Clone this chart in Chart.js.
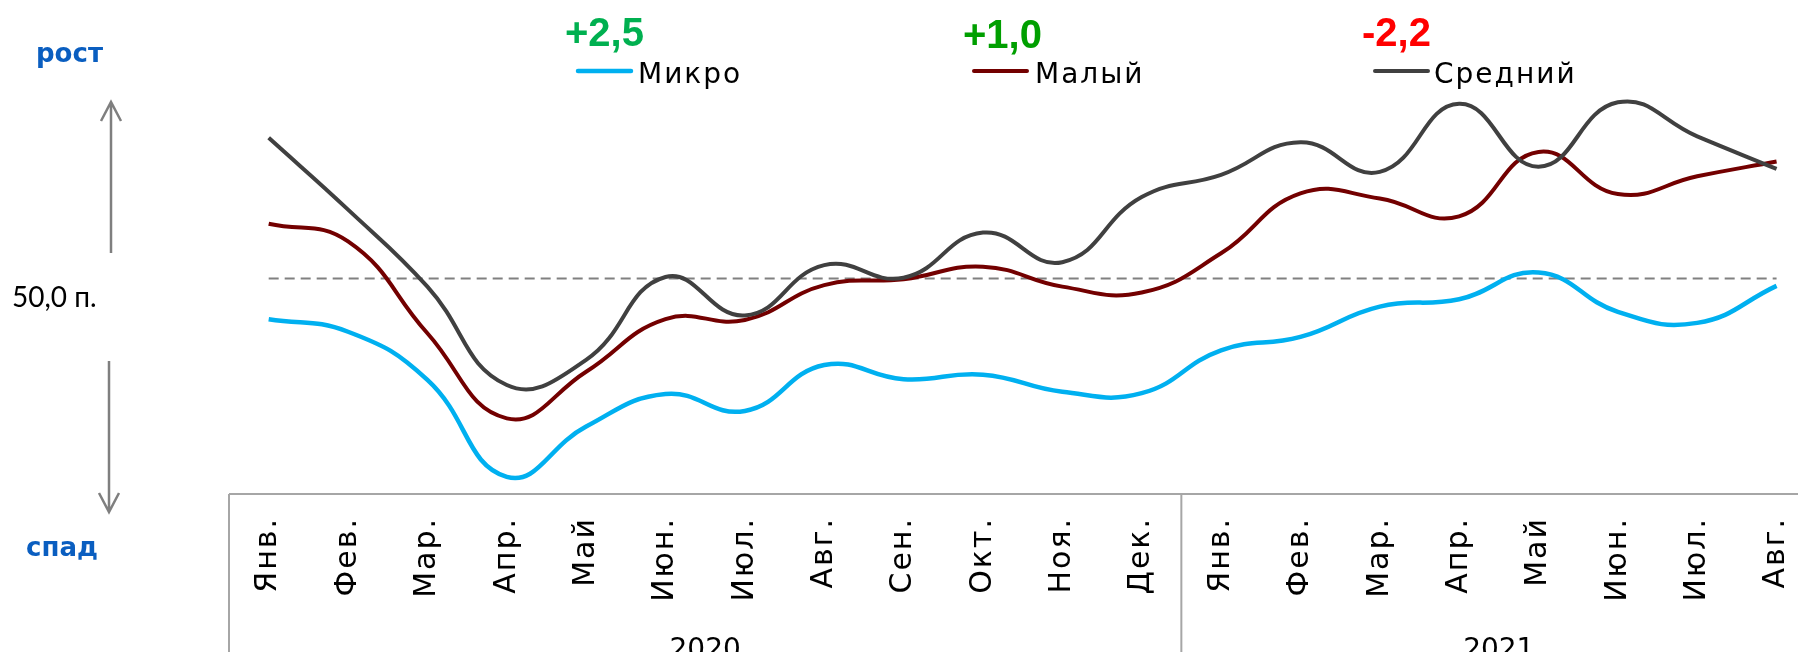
<!DOCTYPE html>
<html lang="ru">
<head>
<meta charset="utf-8">
<script src="https://cdn.jsdelivr.net/npm/chart.js@4.4.1/dist/chart.umd.min.js"></script>
<style>
html,body{margin:0;padding:0;background:#fff;overflow:hidden;width:1798px;height:652px;}
canvas{display:block;}
</style>
</head>
<body>
<canvas id="c" width="1798" height="652"></canvas>
<script>
const months = ['Янв.','Фев.','Мар.','Апр.','Май','Июн.','Июл.','Авг.','Сен.','Окт.','Ноя.','Дек.',
                'Янв.','Фев.','Мар.','Апр.','Май','Июн.','Июл.','Авг.'];
const years = ['2020','2021'];
const yearSpans = [12, 8];

const micro   = [47.25,46.4,43.15,36.6,40.0,42.2,41.05,44.15,43.2,43.5,42.35,42.25,45.15,46.05,48.1,48.6,50.4,47.75,47.0,49.5];
const malyj   = [53.7,52.5,46.3,40.55,43.7,47.25,47.2,49.55,49.95,50.8,49.45,49.05,51.7,55.75,55.4,54.2,58.55,55.7,56.9,57.9];
const sredniy = [59.5,54.65,49.45,42.8,44.5,50.1,47.5,50.9,50.05,53.1,51.1,55.5,57.0,59.2,57.2,61.8,57.55,61.9,59.6,57.4];
const threshold = [50,50,50,50,50,50,50,50,50,50,50,50,50,50,50,50,50,50,50,50];

const seriesNames  = ['Микро','Малый','Средний'];
const changeLabels = ['+2,5','+1,0','-2,2'];
const thresholdLabel = '50,0 п.';
const upLabel = 'рост';
const downLabel = 'спад';

// visible x-window: the last category box runs past the right edge of the picture
const xMin = -0.5, xMax = 19.27;

const toPoints = arr => arr.map((v, i) => ({x: i, y: v}));

const spacing = {
  id: 'spacing',
  beforeDraw(chart) { try { chart.ctx.letterSpacing = '2px'; } catch (e) {} },
  afterDatasetsDraw(chart) { try { chart.ctx.letterSpacing = '0px'; } catch (e) {} }
};

const decor = {
  id: 'decor',
  afterDraw(chart) {
    const c = chart.ctx, a = chart.chartArea, xs = chart.scales.x, ys = chart.scales.y;
    const H = chart.height;
    c.save();
    try { c.letterSpacing = '0px'; } catch (e) {}
    // category box
    const bounds = [xs.getPixelForValue(-0.5)];
    let idx = 0;
    yearSpans.forEach(n => { idx += n; bounds.push(xs.getPixelForValue(idx - 0.5)); });
    c.strokeStyle = '#A6A6A6';
    c.lineWidth = 2;
    c.beginPath();
    c.moveTo(a.left, a.bottom); c.lineTo(chart.width, a.bottom);
    for (let i = 0; i < bounds.length - 1; i++) {
      c.moveTo(bounds[i], a.bottom); c.lineTo(bounds[i], H);
    }
    c.stroke();
    // year labels
    c.fillStyle = '#000';
    c.font = '28px "DejaVu Sans"';
    c.textAlign = 'center';
    c.textBaseline = 'alphabetic';
    years.forEach((yr, i) => {
      c.fillText(yr, (bounds[i] + bounds[i + 1]) / 2, 658);
    });

    // legend
    const legend = [
      {name: seriesNames[0], color: '#00B0F0', w: 4.5, lx: 578, tx: 638, ch: changeLabels[0], cc: '#00B050', cx: 565, cy: 46},
      {name: seriesNames[1], color: '#730000', w: 4,   lx: 974, tx: 1035, ch: changeLabels[1], cc: '#009F00', cx: 963, cy: 48},
      {name: seriesNames[2], color: '#404040', w: 4,   lx: 1375, tx: 1434, ch: changeLabels[2], cc: '#FF0000', cx: 1362, cy: 46}
    ];
    legend.forEach(l => {
      c.strokeStyle = l.color; c.lineWidth = l.w; c.lineCap = 'round';
      c.beginPath(); c.moveTo(l.lx, 71); c.lineTo(l.lx + 53, 71); c.stroke();
      c.fillStyle = '#000';
      c.font = '28px "DejaVu Sans"';
      c.textAlign = 'left';
      try { c.letterSpacing = '2px'; } catch (e) {}
      c.fillText(l.name, l.tx, 83);
      try { c.letterSpacing = '0px'; } catch (e) {}
      c.fillStyle = l.cc;
      c.font = 'bold 40px "Liberation Sans"';
      c.fillText(l.ch, l.cx, l.cy);
    });

    // threshold label
    const y50 = ys.getPixelForValue(50);
    c.fillStyle = '#000';
    c.font = '28px "Lato"';
    c.textAlign = 'left';
    c.fillText(thresholdLabel, 12, y50 + 29);

    // growth / decline
    c.fillStyle = '#0A5EC0';
    c.font = 'bold 26px "DejaVu Sans"';
    c.fillText(upLabel, 36, 62);
    c.fillText(downLabel, 26, 556);

    // arrows
    c.strokeStyle = '#7F7F7F';
    c.lineWidth = 2.5;
    c.lineCap = 'butt';
    c.beginPath();
    c.moveTo(111, 253); c.lineTo(111, 103);
    c.moveTo(101, 121); c.lineTo(111, 102); c.lineTo(121, 121);
    c.moveTo(109, 361); c.lineTo(109, 511);
    c.moveTo(99, 493); c.lineTo(109, 512); c.lineTo(119, 493);
    c.stroke();
    c.restore();
  }
};

new Chart(document.getElementById('c'), {
  type: 'line',
  data: {
    datasets: [
      {label: seriesNames[2], data: toPoints(sredniy), borderColor: '#404040', borderWidth: 4, pointRadius: 0, tension: 0.45, fill: false},
      {label: seriesNames[1], data: toPoints(malyj), borderColor: '#730000', borderWidth: 4, pointRadius: 0, tension: 0.45, fill: false},
      {label: seriesNames[0], data: toPoints(micro), borderColor: '#00B0F0', borderWidth: 4.5, pointRadius: 0, tension: 0.45, fill: false},
      {label: 'Порог', data: toPoints(threshold), borderColor: '#808080', borderWidth: 2, borderDash: [10, 6], pointRadius: 0, tension: 0, fill: false}
    ]
  },
  options: {
    responsive: false,
    animation: false,
    devicePixelRatio: 1,
    layout: {padding: {left: 229, top: 85, right: 0, bottom: 0}},
    plugins: {legend: {display: false}, tooltip: {enabled: false}},
    scales: {
      x: {
        type: 'linear',
        min: xMin, max: xMax,
        grid: {display: false, drawTicks: false},
        border: {display: false},
        afterBuildTicks(s) { s.ticks = months.map((m, i) => ({value: i})); },
        ticks: {minRotation: 90, maxRotation: 90, autoSkip: false, padding: 23, color: '#000',
                font: {family: '"DejaVu Sans"', size: 30},
                callback: (v) => months[Math.round(v)]},
        afterFit(s) { s.height = 158; s.paddingLeft = 0; s.paddingRight = 0; }
      },
      y: {display: false, min: 35.44, max: 63.07}
    }
  },
  plugins: [spacing, decor]
});
</script>
</body>
</html>
